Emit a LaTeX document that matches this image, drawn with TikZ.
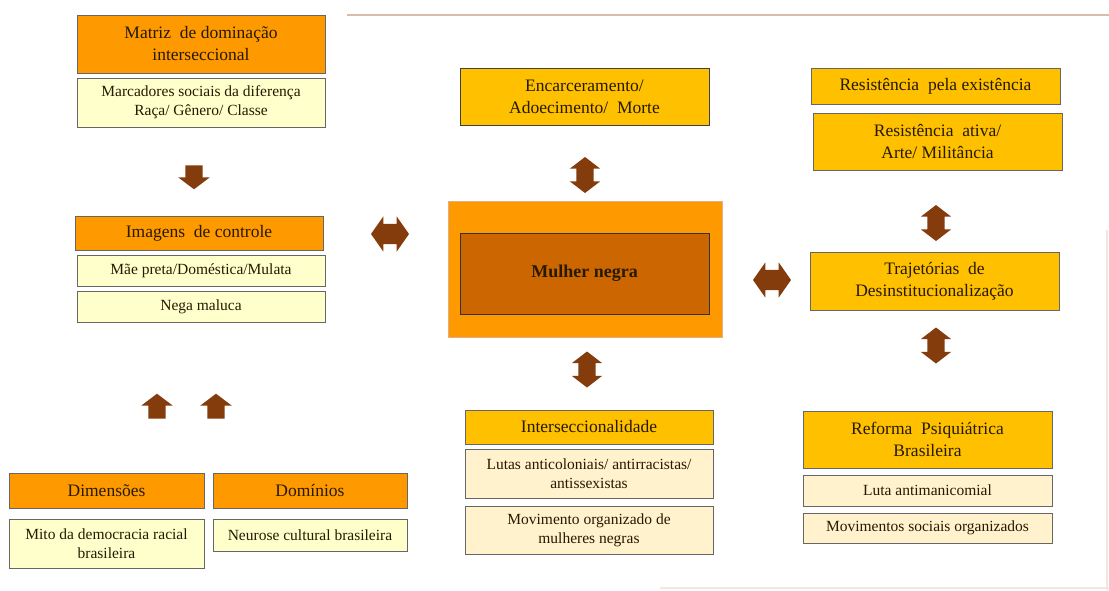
\documentclass[tikz,border=0pt]{standalone}
\usepackage{fontspec}
\setmainfont{Liberation Serif}
\usetikzlibrary{shapes.arrows}
\definecolor{corange}{HTML}{FF9900}
\definecolor{cgold}{HTML}{FFC000}
\definecolor{cly}{HTML}{FFFFCC}
\definecolor{ccream}{HTML}{FFF2CC}
\definecolor{cinner}{HTML}{CC6600}
\definecolor{carrow}{HTML}{843C0C}
\definecolor{ctext}{HTML}{261A00}
\definecolor{cline}{HTML}{D8BCAE}
\definecolor{cfaint}{HTML}{F2E6E0}
\begin{document}
\begin{tikzpicture}[x=1pt,y=-1pt,
  box/.style={draw=black!60, line width=0.9pt, align=center, inner sep=2pt, text=ctext},
  hdr/.style={box, font=\fontsize{17.5}{22}\selectfont},
  sub/.style={box, font=\fontsize{15.5}{19}\selectfont},
  orbox/.style={hdr, fill=corange},
  gdbox/.style={hdr, fill=cgold},
  lybox/.style={sub, fill=cly},
  crbox/.style={sub, fill=ccream},
  varrow/.style={double arrow, fill=carrow, draw=none, inner sep=8.5pt,
    double arrow head extend=6.5pt, double arrow tip angle=105, minimum height=36pt, rotate=90},
  harrow/.style={double arrow, fill=carrow, draw=none, inner sep=10pt,
    double arrow head extend=7.5pt, double arrow tip angle=110, minimum height=38pt},
  uparrow/.style={single arrow, fill=carrow, draw=none, inner sep=8.5pt,
    single arrow head extend=7pt, single arrow tip angle=106, minimum height=25pt, rotate=90},
  dnarrow/.style={single arrow, fill=carrow, draw=none, inner sep=8.5pt,
    single arrow head extend=7pt, single arrow tip angle=106, minimum height=24pt, rotate=-90}
]
\useasboundingbox[fill=white] (0,0) rectangle (1109,590);
% faint frame lines
\draw[cline, line width=2pt] (347,15) -- (1109,15);
\draw[cfaint, line width=1.2pt] (1107,230) -- (1107,590);
\draw[cfaint, line width=1.2pt] (660,588) -- (1109,588);

% left column
\node[orbox, minimum width=248pt, minimum height=58pt] (matriz) at (201,44) {Matriz\ \ de dominação\\interseccional};
\node[lybox, minimum width=248pt, minimum height=49pt] (marc) at (201,102.5) {Marcadores sociais da diferença\\Raça/ Gênero/ Classe};
\node[dnarrow] (a1) at (194,174) {};
\node[orbox, minimum width=248pt, minimum height=34pt] (imag) at (199,233) {Imagens\ \ de controle};
\node[lybox, minimum width=248pt, minimum height=31pt] (mae) at (201,270.5) {Mãe preta/Doméstica/Mulata};
\node[lybox, minimum width=248pt, minimum height=31pt] (nega) at (201,306.5) {Nega maluca};
\node[uparrow] (a2) at (157,409.5) {};
\node[uparrow] (a3) at (216,409.5) {};
\node[orbox, minimum width=195pt, minimum height=35pt] (dim) at (106.5,490.5) {Dimensões};
\node[orbox, minimum width=194pt, minimum height=35pt] (dom) at (310,490.5) {Domínios};
\node[lybox, minimum width=195pt, minimum height=49pt] (mito) at (106.5,543.5) {Mito da democracia racial\\brasileira};
\node[lybox, minimum width=194pt, minimum height=32pt] (neur) at (310,535) {Neurose cultural brasileira};

\node[harrow] (a4) at (390,234) {};

% center column
\node[gdbox, draw=black!75, minimum width=249pt, minimum height=57pt] (enc) at (584.5,96.5) {Encarceramento/\\Adoecimento/\ \ Morte};
\node[varrow] (a5) at (585,175) {};
\node[fill=corange, draw=corange!80!blue!60, line width=0.6pt, minimum width=274pt, minimum height=136pt, inner sep=0pt] (outer) at (585,269) {};
\node[box, fill=cinner, draw=black!80, line width=1pt, minimum width=249pt, minimum height=81pt,
  font=\fontsize{18}{22}\selectfont\bfseries] (mulher) at (584.5,273.5) {Mulher negra};
\node[varrow] (a6) at (587,369.5) {};
\node[gdbox, minimum width=248pt, minimum height=34pt] (inter) at (589,427) {Interseccionalidade};
\node[crbox, minimum width=248pt, minimum height=49pt] (lutas) at (589,473.5) {Lutas anticoloniais/ antirracistas/\\antissexistas};
\node[crbox, minimum width=248pt, minimum height=48pt] (movneg) at (589,530) {Movimento organizado de\\mulheres negras};

\node[harrow] (a7) at (772,280) {};

% right column
\node[gdbox, minimum width=249pt, minimum height=36pt] (resp) at (935.5,86) {Resistência\ \ pela existência};
\node[gdbox, minimum width=249pt, minimum height=57pt] (resa) at (937.5,141.5) {Resistência\ \ ativa/\\Arte/ Militância};
\node[varrow] (a8) at (936,223) {};
\node[gdbox, minimum width=249pt, minimum height=58pt] (traj) at (934.5,281) {Trajetórias\ \ de\\Desinstitucionalização};
\node[varrow] (a9) at (936,345.5) {};
\node[gdbox, minimum width=249pt, minimum height=57pt] (ref) at (927.5,439.5) {Reforma\ \ Psiquiátrica\\Brasileira};
\node[crbox, minimum width=249pt, minimum height=31pt] (lutam) at (927.5,490.5) {Luta antimanicomial};
\node[crbox, minimum width=249pt, minimum height=30pt] (movsoc) at (927.5,528) {Movimentos sociais organizados};
\end{tikzpicture}
\end{document}
